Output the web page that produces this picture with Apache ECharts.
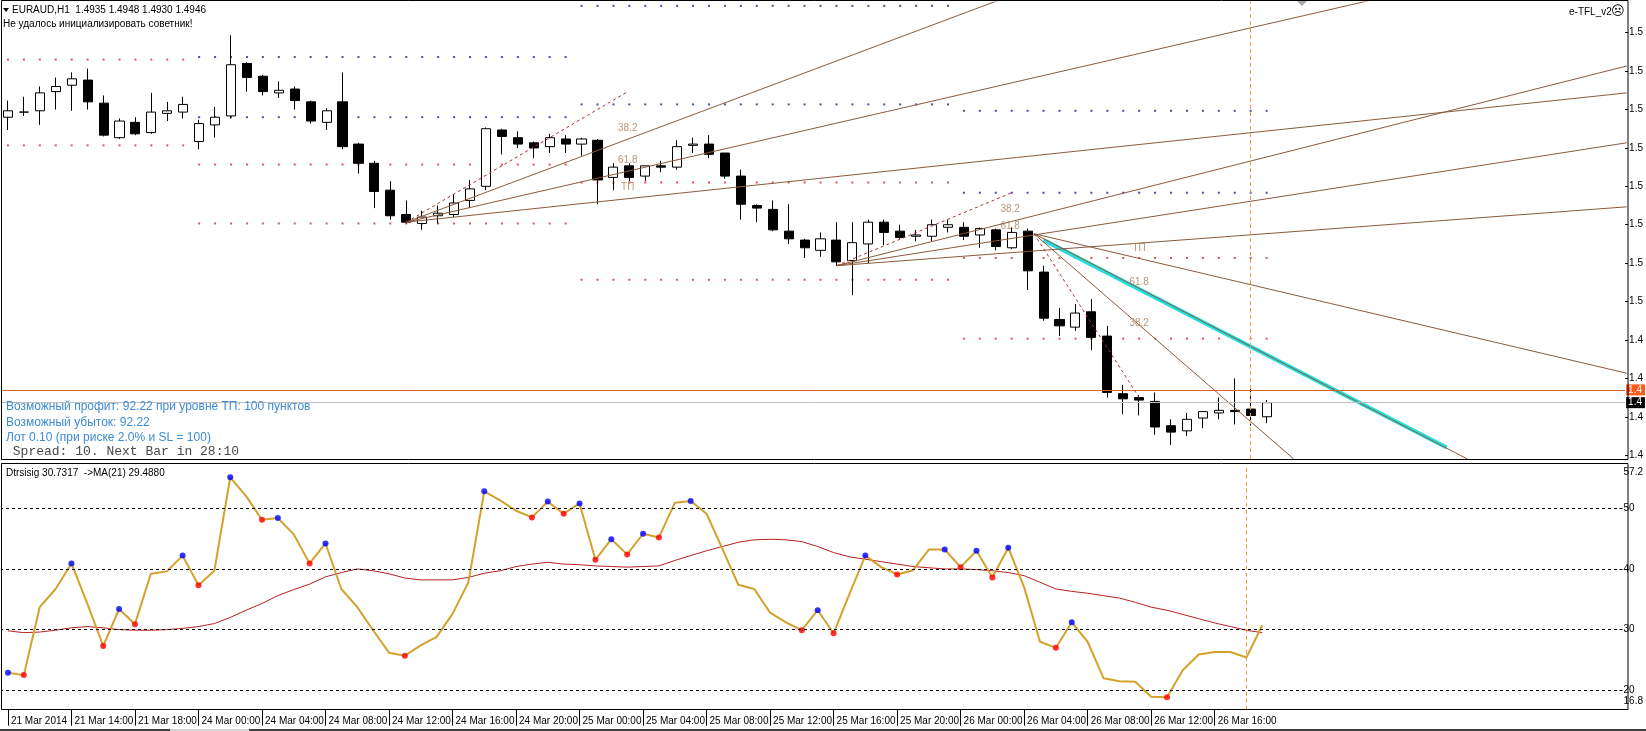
<!DOCTYPE html>
<html>
<head>
<meta charset="utf-8">
<title>EURAUD,H1</title>
<script src="https://cdn.jsdelivr.net/npm/echarts@6.0.0/dist/echarts.min.js"></script>
<style>
  html, body { margin: 0; padding: 0; background: #fff; }
  #chart { width: 1646px; height: 731px; }
</style>
</head>
<body>
<div id="chart"></div>
<script>
// EURAUD H1, bars from 21 Mar 10:00 to 26 Mar 19:00 (80 bars)
const opens = [1.5169,1.5173,1.5174,1.5189,1.5194,1.5198,1.5180,1.5153,1.5165,1.5157,
  1.5172,1.5173,1.5150,1.5163,1.5170,1.5211,1.5201,1.5188,1.5191,1.5181,
  1.5165,1.5181,1.5148,1.5133,1.5112,1.5093,1.5086,1.5092,1.5093,1.5104,
  1.5115,1.5159,1.5153,1.5149,1.5146,1.5152,1.5148,1.5151,1.5122,1.5131,
  1.5123,1.5131,1.5130,1.5147,1.5148,1.5141,1.5123,1.5100,1.5097,1.5080,
  1.5073,1.5065,1.5073,1.5057,1.5070,1.5087,1.5080,1.5076,1.5076,1.5083,
  1.5083,1.5077,1.5081,1.5067,1.5080,1.5048,1.5011,1.5005,1.5017,1.4998,
  1.4953,1.4950,1.4947,1.4928,1.4924,1.4934,1.4938,1.4940,1.4941,1.4935];
const highs = [1.5182,1.5185,1.5193,1.5200,1.5204,1.5207,1.5186,1.5168,1.5169,1.5188,
  1.5181,1.5185,1.5167,1.5177,1.5233,1.5212,1.5202,1.5197,1.5193,1.5182,
  1.5176,1.5204,1.5149,1.5135,1.5119,1.5104,1.5096,1.5100,1.5109,1.5120,
  1.5161,1.5160,1.5158,1.5150,1.5156,1.5155,1.5153,1.5152,1.5133,1.5133,
  1.5131,1.5135,1.5151,1.5153,1.5155,1.5141,1.5128,1.5101,1.5104,1.5101,
  1.5074,1.5079,1.5087,1.5087,1.5089,1.5089,1.5085,1.5081,1.5089,1.5089,
  1.5087,1.5083,1.5082,1.5083,1.5082,1.5053,1.5020,1.5023,1.5027,1.5006,
  1.4960,1.4952,1.4954,1.4933,1.4938,1.4939,1.4950,1.4965,1.4957,1.4948];
const lows = [1.5159,1.5170,1.5163,1.5175,1.5174,1.5175,1.5154,1.5152,1.5155,1.5156,
  1.5166,1.5168,1.5144,1.5153,1.5168,1.5189,1.5186,1.5184,1.5175,1.5164,
  1.5159,1.5144,1.5125,1.5098,1.5089,1.5086,1.5081,1.5086,1.5091,1.5098,
  1.5112,1.5140,1.5145,1.5137,1.5141,1.5141,1.5139,1.5101,1.5112,1.5119,
  1.5119,1.5126,1.5128,1.5141,1.5137,1.5121,1.5089,1.5087,1.5080,1.5070,
  1.5059,1.5060,1.5053,1.5030,1.5055,1.5069,1.5074,1.5072,1.5072,1.5079,
  1.5073,1.5067,1.5065,1.5066,1.5034,1.5010,1.4998,1.5002,1.4987,1.4950,
  1.4937,1.4936,1.4921,1.4913,1.4920,1.4926,1.4933,1.4929,1.4928,1.4930];
const closes = [1.5174,1.5173,1.5188,1.5193,1.5199,1.5181,1.5155,1.5166,1.5156,1.5173,
  1.5174,1.5179,1.5164,1.5169,1.5210,1.5200,1.5189,1.5190,1.5182,1.5166,
  1.5174,1.5146,1.5133,1.5111,1.5092,1.5087,1.5091,1.5094,1.5102,1.5113,
  1.5160,1.5154,1.5148,1.5145,1.5153,1.5148,1.5152,1.5120,1.5130,1.5122,
  1.5131,1.5130,1.5146,1.5148,1.5140,1.5123,1.5101,1.5098,1.5081,1.5074,
  1.5067,1.5074,1.5056,1.5071,1.5087,1.5079,1.5075,1.5077,1.5085,1.5085,
  1.5076,1.5082,1.5068,1.5079,1.5049,1.5012,1.5006,1.5016,1.4997,1.4954,
  1.4949,1.4948,1.4927,1.4923,1.4933,1.4939,1.4940,1.4939,1.4936,1.4946];

// Dtrsisig oscillator and its MA(21)
const dtrsisig = [22.9,22.5,33.7,36.7,40.9,34.3,27.3,33.4,30.9,39.2,
  39.6,42.2,37.3,39.7,55.1,52.0,48.1,48.4,45.7,40.9,
  44.2,36.7,33.7,29.9,26.2,25.7,27.4,28.8,32.6,37.8,
  52.8,51.3,49.6,48.5,51.1,49.1,50.8,41.5,44.9,42.4,
  45.8,45.2,50.9,51.2,49.1,43.3,37.4,36.7,32.8,31.2,
  29.9,33.2,29.4,35.9,42.2,40.3,39.1,39.8,43.2,43.2,
  40.3,43.0,38.6,43.5,37.0,28.0,27.0,31.2,28.0,22.0,
  21.5,21.4,18.95,18.85,23.35,25.9,26.3,26.3,25.4,30.73];
const ma21 = [29.8,29.5,29.6,29.9,30.3,30.5,30.3,30.0,29.9,29.9,
  30.0,30.2,30.5,31.0,32.0,33.2,34.3,35.6,36.6,37.5,
  38.7,39.4,40.0,39.7,39.2,38.5,38.2,38.2,38.2,38.6,
  39.3,39.7,40.4,40.8,41.1,40.8,40.7,40.5,40.4,40.3,
  40.4,40.5,41.4,42.2,43.0,43.7,44.4,44.8,44.9,44.8,
  44.5,43.7,42.7,42.0,41.6,41.2,40.8,40.4,40.2,40.0,
  40.0,39.9,39.7,39.4,38.9,37.8,36.7,36.3,36.0,35.6,
  35.2,34.5,33.7,33.2,32.5,31.8,31.1,30.5,29.9,29.49];
const peakBars = [0,4,7,11,14,17,20,30,34,36,38,40,43,51,54,59,61,63,67];
const troughBars = [1,6,8,12,16,19,25,33,35,37,39,41,50,52,56,60,62,66,73];

const tickLabels = ['21 Mar 2014','21 Mar 14:00','21 Mar 18:00','24 Mar 00:00','24 Mar 04:00',
  '24 Mar 08:00','24 Mar 12:00','24 Mar 16:00','24 Mar 20:00','25 Mar 00:00','25 Mar 04:00',
  '25 Mar 08:00','25 Mar 12:00','25 Mar 16:00','25 Mar 20:00','26 Mar 00:00','26 Mar 04:00',
  '26 Mar 08:00','26 Mar 12:00','26 Mar 16:00'];
const priceTicks = [1.4905,1.4935,1.4965,1.4995,1.5025,1.5055,1.5085,1.5115,1.5145,1.5175,1.5205,1.5235];
const oscTicks = [16.8, 20, 30, 40, 50, 57.2];
const oscLevels = [20, 30, 40, 50];

// dotted level rows drawn by the advisor: [first bar, last bar, price, colour]
const levels = [
  [0, 11, 1.5214, 'red'], [0, 11, 1.5147, 'red'],
  [12, 35, 1.5216, 'blue'], [12, 35, 1.5169, 'blue'], [12, 35, 1.5132, 'red'], [12, 35, 1.5086, 'red'],
  [36, 59, 1.5256, 'blue'], [36, 59, 1.5179, 'blue'], [36, 59, 1.5118, 'red'], [36, 59, 1.5042, 'red'],
  [60, 79, 1.5174, 'blue'], [60, 79, 1.5110, 'blue'], [60, 79, 1.5059, 'red'], [60, 79, 1.4996, 'red']
];

// fibo fans: [bar0, price0, bar1, price1]
const fanLines = [
  [25, 1.5087, 62.1, 1.5260], [25, 1.5087, 85.4, 1.5260], [25, 1.5087, 101.6, 1.5188],
  [52, 1.5053, 101.6, 1.5209], [52, 1.5053, 101.6, 1.5149], [52, 1.5053, 101.6, 1.5099],
  [64.4, 1.5078, 101.6, 1.4969], [64.4, 1.5078, 91.6, 1.4902], [64.4, 1.5078, 80.7, 1.4902]
];
const trendLines = [
  [25, 1.5087, 38.9, 1.5189], [52, 1.5053, 63, 1.5110], [64.4, 1.5078, 71, 1.4950]
];
const cyanLine = [65, 1.5073, 90.3, 1.4911];
const fibLabels = [
  [38.9, 1.5160, '38.2'], [38.9, 1.5135, '61.8'], [38.9, 1.5114, 'ТП'],
  [62.9, 1.5097, '38.2'], [62.9, 1.5084, '61.8'],
  [71, 1.5067, 'ТП'], [71, 1.5040, '61.8'], [71, 1.5008, '38.2']
];
const tpLevel = 1.4956;
const bidLevel = 1.4946;
const cursorBar = 78;

const slotCount = 102;
const slots = Array.from({ length: slotCount }, (_, i) => String(i));
const candleData = opens.map((o, i) => [o, closes[i], lows[i], highs[i]]);

function levelDots(color) {
  const pts = [];
  for (const [from, to, price, c] of levels) {
    if (c !== color) continue;
    for (let k = from; k <= to; k++) pts.push([k, price]);
  }
  return pts;
}

const showTick = (i) => i % 4 === 0 && i / 4 < tickLabels.length;
const font = '"Liberation Sans", Arial, sans-serif';

function segment(l, color, width, type, z) {
  return {
    type: 'line', xAxisIndex: 2, yAxisIndex: 0, silent: true, symbol: 'none', z: z,
    data: [[l[0], l[1]], [l[2], l[3]]],
    lineStyle: { color: color, width: width, type: type }
  };
}

function priceBox(bg) {
  return { show: true, position: 'end', distance: 1, formatter: p => Number(p.value).toFixed(4).slice(0, 3),
    color: '#fff', backgroundColor: bg, padding: [1, 3, 0, 2], fontSize: 10, fontFamily: font };
}

const series = [
  { type: 'scatter', xAxisIndex: 0, yAxisIndex: 0, silent: true, symbol: 'rect', symbolSize: 2,
    itemStyle: { color: '#dd2a2a' }, data: levelDots('red'), z: 1 },
  { type: 'scatter', xAxisIndex: 0, yAxisIndex: 0, silent: true, symbol: 'rect', symbolSize: 2,
    itemStyle: { color: '#1c1ca8' }, data: levelDots('blue'), z: 1 },
  { type: 'candlestick', xAxisIndex: 0, yAxisIndex: 0, silent: true, barWidth: 9.6, z: 2,
    data: candleData,
    itemStyle: { color: '#ffffff', color0: '#000000', borderColor: '#000000', borderColor0: '#000000',
      borderColorDoji: '#000000', borderWidth: 1 },
    markLine: {
      silent: true, symbol: 'none', animation: false, precision: 4,
      data: [
        { yAxis: bidLevel, lineStyle: { color: '#c0c0c0', width: 1, type: 'solid' }, label: priceBox('#000') },
        { yAxis: tpLevel, lineStyle: { color: '#d8622c', width: 1, type: 'solid' }, label: priceBox('#ff5a1a') },
        { xAxis: cursorBar, lineStyle: { color: '#e8a040', width: 1, type: [4, 3] }, label: { show: false } }
      ]
    } },
  segment(cyanLine, '#22dede', 4, 'solid', 3)
];
fanLines.forEach(l => series.push(segment(l, '#8a5a3c', 1, 'solid', 4)));
trendLines.forEach(l => series.push(segment(l, '#a83030', 1, [3, 3], 4)));
series.push({
  type: 'scatter', xAxisIndex: 2, yAxisIndex: 0, silent: true, symbolSize: 1, z: 5,
  itemStyle: { color: 'rgba(0,0,0,0)' },
  data: fibLabels.map(f => ({ value: [f[0], f[1]], name: f[2] })),
  label: { show: true, position: 'inside', formatter: '{b}', color: '#a67a58', fontSize: 10, fontFamily: font }
});

// oscillator pane
series.push({
  type: 'line', xAxisIndex: 1, yAxisIndex: 1, silent: true, symbol: 'none', z: 2,
  data: ma21, lineStyle: { color: '#b82020', width: 1 },
  markLine: {
    silent: true, symbol: 'none', animation: false, label: { show: false },
    data: oscLevels.map(v => ({ yAxis: v, lineStyle: { color: '#000', width: 1, type: [3, 3] } }))
      .concat([{ xAxis: cursorBar, lineStyle: { color: '#e8a040', width: 1, type: [4, 3] } }])
  }
});
series.push({
  type: 'line', xAxisIndex: 1, yAxisIndex: 1, silent: true, symbol: 'none', z: 3,
  data: dtrsisig, lineStyle: { color: '#d4a22c', width: 2 }
});
series.push({
  type: 'scatter', xAxisIndex: 1, yAxisIndex: 1, silent: true, symbolSize: 6, z: 4,
  itemStyle: { color: '#0000ff' }, data: peakBars.map(k => [k, dtrsisig[k]])
});
series.push({
  type: 'scatter', xAxisIndex: 1, yAxisIndex: 1, silent: true, symbolSize: 6, z: 4,
  itemStyle: { color: '#ff0000' }, data: troughBars.map(k => [k, dtrsisig[k]])
});

function text(x, y, str, fnt, fill) {
  return { type: 'text', x: x, y: y, z: 110, silent: true,
    style: { text: str, font: fnt, fill: fill, verticalAlign: 'middle' } };
}

const option = {
  animation: false,
  backgroundColor: '#ffffff',
  textStyle: { fontFamily: font },
  grid: [
    { left: -5.7, right: 18, top: 2, height: 457 },
    { left: -5.7, right: 18, top: 464.6, height: 245.1 }
  ],
  xAxis: [
    { type: 'category', gridIndex: 0, data: slots, show: false },
    { type: 'category', gridIndex: 1, data: slots,
      axisLine: { show: false, onZero: false },
      splitLine: { show: false },
      axisTick: { show: true, alignWithLabel: true, interval: showTick, length: 16, lineStyle: { color: '#000' } },
      axisLabel: { show: true, interval: showTick, formatter: (v, i) => tickLabels[i / 4],
        align: 'left', margin: 7, padding: [0, 0, 0, 3], fontSize: 10, color: '#000', fontFamily: font } },
    { type: 'value', gridIndex: 0, min: -0.5, max: slotCount - 0.5, show: false }
  ],
  yAxis: [
    { type: 'value', gridIndex: 0, position: 'right', min: 1.4902, max: 1.5259,
      splitLine: { show: false }, axisLine: { show: false, onZero: false },
      axisTick: { show: true, length: 3, customValues: priceTicks, lineStyle: { color: '#000' } },
      axisLabel: { customValues: priceTicks, formatter: v => v.toFixed(4).slice(0, 3),
        margin: 4, fontSize: 10, color: '#000', fontFamily: font } },
    { type: 'value', gridIndex: 1, position: 'right', min: 16.8, max: 57.2,
      splitLine: { show: false }, axisLine: { show: false, onZero: false },
      axisTick: { show: true, length: 3, customValues: oscLevels, lineStyle: { color: '#000' } },
      axisLabel: { customValues: oscTicks, margin: 4, fontSize: 10, color: '#000', fontFamily: font,
        formatter: v => Math.abs(v - 57.2) < 0.01 ? '{t|57.2}' : Math.abs(v - 16.8) < 0.01 ? '{b|16.8}' : '{n|' + v + '}',
        rich: {
          t: { padding: [15, 0, 0, 0], fontSize: 10, color: '#000', fontFamily: font },
          b: { padding: [0, 0, 17, 0], fontSize: 10, color: '#000', fontFamily: font },
          n: { fontSize: 10, color: '#000', fontFamily: font }
        } } }
  ],
  series: series,
  graphic: [
    { type: 'rect', silent: true, z: 100, shape: { x: 0, y: 0, width: 1.5, height: 731 }, style: { fill: '#fff' } },
    { type: 'rect', silent: true, z: 101, shape: { x: 1.5, y: 0.5, width: 1626.5, height: 459 },
      style: { fill: 'none', stroke: '#000', lineWidth: 1 } },
    { type: 'rect', silent: true, z: 101, shape: { x: 1.5, y: 463.5, width: 1626.5, height: 246 },
      style: { fill: 'none', stroke: '#000', lineWidth: 1 } },
    { type: 'rect', silent: true, z: 101, shape: { x: 0, y: 729, width: 1646, height: 2 }, style: { fill: '#404040' } },
    { type: 'rect', silent: true, z: 102, shape: { x: 170, y: 729, width: 79, height: 2 }, style: { fill: '#d4d4d4' } },
    { type: 'polygon', silent: true, z: 110, shape: { points: [[3, 8], [9, 8], [6, 12]] }, style: { fill: '#000' } },
    { type: 'polygon', silent: true, z: 110, shape: { points: [[1297, 1], [1307, 1], [1302, 6]] }, style: { fill: '#a8a8a8' } },
    text(12, 10, 'EURAUD,H1  1.4935 1.4948 1.4930 1.4946', '10px ' + font, '#000'),
    text(3, 24, 'Не удалось инициализировать советник!', '10px ' + font, '#000'),
    text(1569, 12, 'e-TFL_v2', '10px ' + font, '#000'),
    text(1611, 12, '☹', '13px "DejaVu Sans"', '#000'),
    text(6, 407, 'Возможный профит: 92.22 при уровне ТП: 100 пунктов', '12px ' + font, '#3d8bd4'),
    text(6, 422.5, 'Возможный убыток: 92.22', '12px ' + font, '#3d8bd4'),
    text(6, 438, 'Лот 0.10 (при риске 2.0% и SL = 100)', '12px ' + font, '#3d8bd4'),
    text(5, 451.5, ' Spread: 10. Next Bar in 28:10', '13px "Liberation Mono", monospace', '#4a4a4a'),
    text(6, 473, 'Dtrsisig 30.7317  ->MA(21) 29.4880', '10px ' + font, '#000')
  ]
};

const chart = echarts.init(document.getElementById('chart'));
chart.setOption(option);
</script>
</body>
</html>
